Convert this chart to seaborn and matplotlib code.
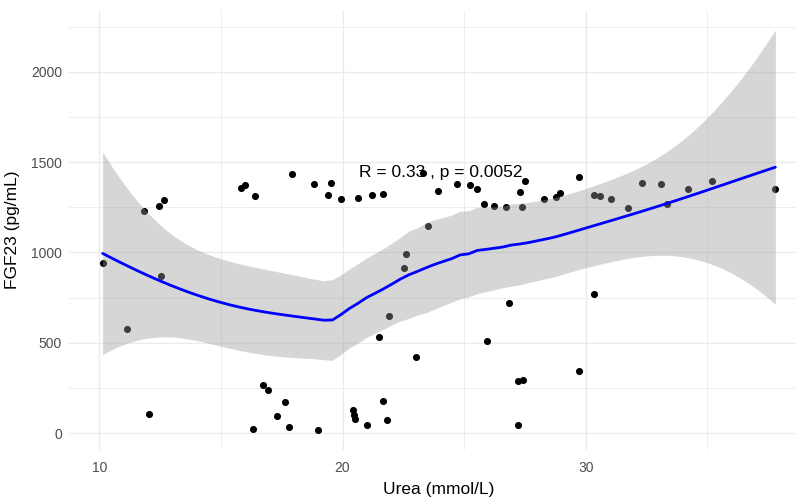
import numpy as np
import pandas as pd
import matplotlib
matplotlib.use("Agg")
import matplotlib.pyplot as plt
import seaborn as sns
from matplotlib.ticker import MultipleLocator

# Urea (mmol/L) and FGF23 (pg/mL)
urea = [10.14, 11.15, 11.82, 12.04, 12.44, 12.52, 12.65, 15.83, 16.00, 16.34,
        16.42, 16.72, 16.93, 17.31, 17.63, 17.82, 17.93, 18.82, 18.99, 19.42,
        19.53, 19.92, 20.42, 20.46, 20.52, 20.62, 21.02, 21.21, 21.51, 21.65,
        21.65, 21.82, 21.91, 22.52, 22.60, 23.03, 23.32, 23.50, 23.94, 24.72,
        25.23, 25.54, 25.80, 25.93, 26.24, 26.71, 26.83, 27.20, 27.20, 27.31,
        27.39, 27.41, 27.52, 28.30, 28.79, 28.93, 29.70, 29.70, 30.32, 30.33,
        30.60, 31.02, 31.73, 32.32, 33.09, 33.33, 34.21, 35.19, 37.79]
fgf23 = [940, 576, 1228, 107, 1258, 870, 1289, 1356, 1374, 24,
         1315, 266, 240, 96, 170, 35, 1435, 1380, 17, 1320,
         1387, 1298, 126, 100, 79, 1304, 43, 1319, 534, 1326,
         177, 74, 650, 916, 990, 419, 1442, 1148, 1342, 1380,
         1374, 1350, 1267, 510, 1259, 1252, 722, 290, 43, 1337,
         1252, 295, 1398, 1295, 1306, 1331, 1417, 342, 770, 1320,
         1313, 1295, 1245, 1387, 1380, 1270, 1350, 1398, 1350]
cor_label = "R = 0.33 , p = 0.0052"

df = pd.DataFrame({"urea": urea, "fgf23": fgf23})
x = df["urea"].to_numpy(float)
y = df["fgf23"].to_numpy(float)
n = len(x)


# local quadratic loess weights (span 0.75, tricube), like geom_smooth's default
def loess_row(x0, span=0.75):
    d = np.abs(x - x0)
    q = int(np.floor(n * span))
    h = np.sort(d)[q - 1]
    u = np.clip(d / h, 0, 1)
    w = (1 - u ** 3) ** 3
    X = np.column_stack([np.ones(n), x - x0, (x - x0) ** 2])
    XtW = X.T * w
    return np.linalg.solve(XtW @ X, XtW)[0]


L = np.array([loess_row(v) for v in x])
M = np.eye(n) - L
MM = M.T @ M
one_delta = np.trace(MM)
two_delta = np.trace(MM @ MM)
sigma = np.sqrt(np.sum((M @ y) ** 2) / one_delta)
dof = one_delta ** 2 / two_delta
z = 1.959964
tq = z + (z ** 3 + z) / (4 * dof) + (5 * z ** 5 + 16 * z ** 3 + 3 * z) / (96 * dof ** 2)

grid = np.linspace(x.min(), x.max(), 80)
rows = np.array([loess_row(v) for v in grid])
fit = rows @ y
se = sigma * np.sqrt(np.sum(rows ** 2, axis=1))
smooth = pd.DataFrame({"urea": grid, "fit": fit, "lo": fit - tq * se, "hi": fit + tq * se})

sns.set_theme(style="white")
plt.rcParams["font.family"] = ["Liberation Sans", "DejaVu Sans"]

fig = plt.figure(figsize=(7.96, 5), dpi=100)
ax = fig.add_axes([69 / 796, 0.1, 740 / 796, 0.88])

sns.scatterplot(data=df, x="urea", y="fgf23", color="black", s=26, linewidth=0, ax=ax, zorder=2)
ax.fill_between(smooth["urea"], smooth["lo"], smooth["hi"], color="#999999", alpha=0.4, linewidth=0, zorder=3)
sns.lineplot(data=smooth, x="urea", y="fit", color="blue", linewidth=2, ax=ax, zorder=4)

ax.text(20.66, 1418, cor_label, fontsize=12.5, color="black", ha="left", va="baseline", zorder=5)

# ggplot style 5% expansion
xr = x.max() - x.min()
ax.set_xlim(x.min() - 0.05 * xr, x.max() + 0.05 * xr)
ylo = min(y.min(), smooth["lo"].min())
yhi = max(y.max(), smooth["hi"].max())
yr = yhi - ylo
ax.set_ylim(ylo - 0.05 * yr, yhi + 0.05 * yr)

ax.xaxis.set_major_locator(MultipleLocator(10))
ax.xaxis.set_minor_locator(MultipleLocator(5))
ax.yaxis.set_major_locator(MultipleLocator(500))
ax.yaxis.set_minor_locator(MultipleLocator(250))
ax.grid(which="major", color="#EBEBEB", linewidth=1.0)
ax.grid(which="minor", color="#EBEBEB", linewidth=0.6)
ax.set_axisbelow(True)
for s in ax.spines.values():
    s.set_visible(False)
ax.tick_params(which="both", length=0, labelsize=10, labelcolor="#4D4D4D")
ax.tick_params(axis="x", pad=8)
ax.tick_params(axis="y", pad=5)

ax.set_xlabel("Urea (mmol/L)", fontsize=12.5, color="black", labelpad=5)
ax.set_ylabel("FGF23 (pg/mL)", fontsize=12.5, color="black", labelpad=8)

fig.savefig("out.png", dpi=100)
